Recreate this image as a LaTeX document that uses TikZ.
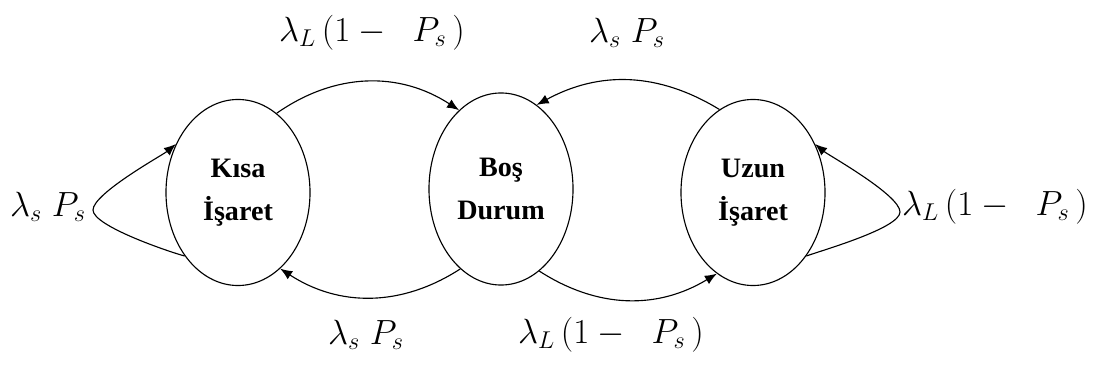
\documentclass[tikz,border=0pt]{standalone}
\usepackage{fontspec}
\setmainfont{Liberation Serif}
\usetikzlibrary{arrows.meta,shapes.geometric}

\begin{document}
\begin{tikzpicture}[x=0.025cm,y=0.025cm,
state/.style={draw,ellipse,line width=0.8pt,minimum width=3.6cm,minimum height=4.65cm,inner sep=0pt,align=center,font=\fontsize{20}{31}\selectfont\bfseries},
rate/.style={font=\fontsize{25}{30}\selectfont,inner sep=1pt},
arr/.style={-{Latex[length=3mm,width=2.4mm]},line width=0.8pt}]
\useasboundingbox (0,0) rectangle (1099,369);
\node[state] (kisa) at (238,176.5) {Kısa\\İşaret};
\node[state,minimum height=4.8cm] (bos) at (501,180) {Boş\\Durum};
\node[state] (uzun) at (753,176.5) {Uzun\\İşaret};
\coordinate (kloop) at (93,159);
\coordinate (uloop) at (900,157);
\node[rate] (rkb) at (372,336) {$\lambda_L\,(1-\;\;P_s\,)$};
\node[rate] (rub) at (627,336) {$\lambda_s\;P_s$};
\node[rate] (rkk) at (48,162) {$\lambda_s\;P_s$};
\node[rate] (ruu) at (995,162) {$\lambda_L\,(1-\;\;P_s\,)$};
\node[rate] (rbk) at (366,34) {$\lambda_s\;P_s$};
\node[rate] (rbu) at (611,34) {$\lambda_L\,(1-\;\;P_s\,)$};
\draw[arr] (kisa.64) to[bend left=34] (bos.118);
\draw[arr] (uzun.112) to[bend right=30] (bos.67);
\draw[arr] (bos.243) to[bend left=33] (kisa.299);
\draw[arr] (bos.295) to[bend right=32] (uzun.246);
\draw[arr] (kisa.230) to[out=165,in=-90,looseness=0.4] (kloop) to[out=90,in=220,looseness=0.4] (kisa.142);
\draw[arr] (uzun.310) to[out=20,in=-90,looseness=0.4] (uloop) to[out=90,in=-40,looseness=0.4] (uzun.38);
\end{tikzpicture}
\end{document}
